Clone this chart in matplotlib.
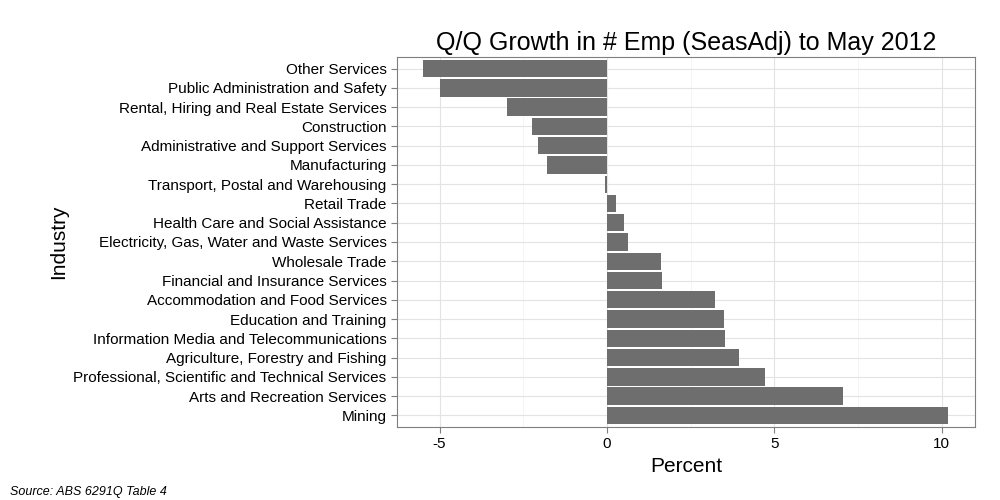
import matplotlib.pyplot as plt
import numpy as np

plt.rcParams['font.family'] = ['Liberation Sans', 'DejaVu Sans']

industries = [
    "Other Services", "Public Administration and Safety",
    "Rental, Hiring and Real Estate Services", "Construction",
    "Administrative and Support Services", "Manufacturing",
    "Transport, Postal and Warehousing", "Retail Trade",
    "Health Care and Social Assistance",
    "Electricity, Gas, Water and Waste Services", "Wholesale Trade",
    "Financial and Insurance Services", "Accommodation and Food Services",
    "Education and Training", "Information Media and Telecommunications",
    "Agriculture, Forestry and Fishing",
    "Professional, Scientific and Technical Services",
    "Arts and Recreation Services", "Mining",
]
growth = [-5.49, -4.99, -2.99, -2.24, -2.06, -1.79, -0.06, 0.27, 0.51, 0.63,
          1.61, 1.64, 3.22, 3.49, 3.52, 3.94, 4.72, 7.04, 10.18]

fig = plt.figure(figsize=(10, 5), dpi=100)
ax = fig.add_axes([0.397, 0.146, 0.578, 0.74])

y = np.arange(len(industries))[::-1]
ax.barh(y, growth, height=0.9, color="#6e6e6e", zorder=3)

ax.set_xlim(-6.27, 10.99)
ax.set_ylim(-0.6, len(industries) - 0.4)
ax.set_yticks(y)
ax.set_yticklabels(industries, fontsize=11)
ax.set_xticks([-5, 0, 5, 10])
ax.set_xticklabels(["-5", "0", "5", "10"], fontsize=11)
ax.set_xticks([-2.5, 2.5, 7.5], minor=True)
ax.grid(which="major", color="#e3e3e3", linewidth=0.8, zorder=0)
ax.grid(which="minor", axis="x", color="#f2f2f2", linewidth=0.5, zorder=0)
ax.tick_params(axis="both", which="major", length=4, color="#7f7f7f")
ax.tick_params(which="minor", length=0)
for s in ax.spines.values():
    s.set_color("#7f7f7f")
    s.set_linewidth(0.8)

ax.set_xlabel("Percent", fontsize=15)
ax.set_ylabel("Industry", fontsize=15)
ax.set_title("Q/Q Growth in # Emp (SeasAdj) to May 2012", fontsize=18, pad=5)
fig.text(0.01, 0.01, "Source: ABS 6291Q Table 4", fontsize=9, style="italic")

fig.savefig("out.png", dpi=100)
